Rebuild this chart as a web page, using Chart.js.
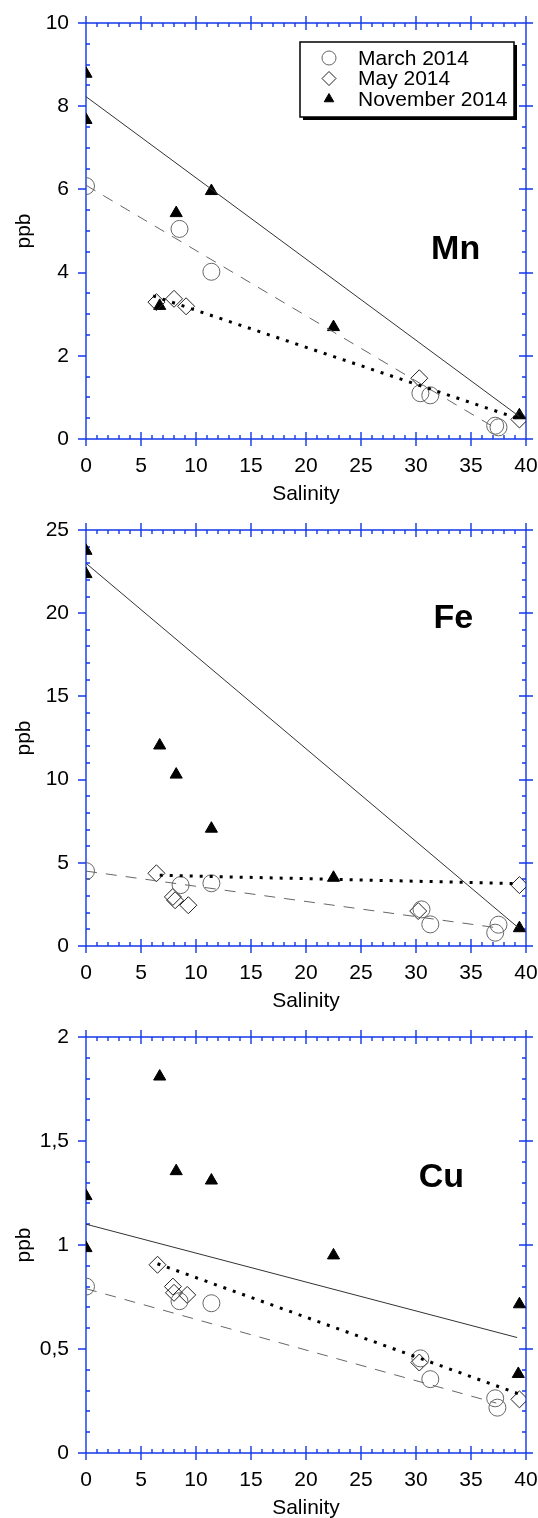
<!DOCTYPE html>
<html><head><meta charset="utf-8">
<script src="https://cdn.jsdelivr.net/npm/chart.js@4.4.1/dist/chart.umd.min.js"></script>
<style>
html,body{margin:0;padding:0;background:#fff;}
body{width:538px;height:1518px;position:relative;overflow:hidden;}
.panel{position:absolute;left:0;width:538px;height:504px;}
</style></head><body>
<div class="panel" style="top:0"><canvas id="c1"></canvas></div>
<div class="panel" style="top:507px"><canvas id="c2"></canvas></div>
<div class="panel" style="top:1014px"><canvas id="c3"></canvas></div>
<script>
// ---------- tick labels ----------
const salinityTicks = ['0','5','10','15','20','25','30','35','40'];
const mnTicks = ['0','2','4','6','8','10'];
const feTicks = ['0','5','10','15','20','25'];
const cuTicks = ['0','0,5','1','1,5','2'];
const seriesNames = ['March 2014','May 2014','November 2014'];

// ---------- Mn ----------
const mnMarchS = [0, 8.5, 11.4, 30.4, 31.3, 37.2, 37.5];
const mnMarchV = [6.08, 5.05, 4.02, 1.10, 1.05, 0.32, 0.28];
const mnMayS = [6.4, 8.0, 9.1, 30.3, 39.4];
const mnMayV = [3.29, 3.37, 3.19, 1.46, 0.47];
const mnNovS = [0, 0, 6.7, 8.2, 11.4, 22.5, 39.4];
const mnNovV = [8.78, 7.67, 3.2, 5.43, 5.96, 2.69, 0.57];
const mnMarchFitS = [0, 37.3], mnMarchFitV = [6.1, 0.25];
const mnMayFitS = [6.1, 39.2], mnMayFitV = [3.44, 0.5];
const mnNovFitS = [0, 39.4], mnNovFitV = [8.23, 0.54];

// ---------- Fe ----------
const feMarchS = [0, 8.6, 11.4, 30.5, 31.3, 37.2, 37.5];
const feMarchV = [4.5, 3.66, 3.77, 2.2, 1.3, 0.8, 1.28];
const feMayS = [6.4, 7.9, 8.1, 9.3, 30.2, 39.4];
const feMayV = [4.37, 2.95, 2.75, 2.45, 2.1, 3.66];
const feNovS = [0, 0, 6.7, 8.2, 11.4, 22.5, 39.4];
const feNovV = [23.75, 22.35, 12.05, 10.3, 7.05, 4.1, 1.07];
const feMarchFitS = [0, 37.3], feMarchFitV = [4.5, 1.1];
const feMayFitS = [6.7, 39.3], feMayFitV = [4.25, 3.75];
const feNovFitS = [0, 39.3], feNovFitV = [23.0, 1.1];

// ---------- Cu ----------
const cuMarchS = [0, 8.5, 11.4, 30.4, 31.3, 37.2, 37.4];
const cuMarchV = [0.80, 0.73, 0.72, 0.455, 0.355, 0.263, 0.218];
const cuMayS = [6.5, 7.9, 8.0, 9.2, 30.3, 39.4];
const cuMayV = [0.905, 0.80, 0.77, 0.76, 0.435, 0.258];
const cuNovS = [0, 0, 6.7, 8.2, 11.4, 22.5, 39.4, 39.3];
const cuNovV = [1.235, 0.985, 1.81, 1.355, 1.31, 0.95, 0.715, 0.38];
const cuMarchFitS = [0, 37.3], cuMarchFitV = [0.79, 0.24];
const cuMayFitS = [6.5, 39.3], cuMayFitV = [0.91, 0.285];
const cuNovFitS = [0, 39.2], cuNovFitV = [1.10, 0.555];

const FONT = '"Liberation Sans", Arial, Helvetica, sans-serif';
const AXIS_BLUE = '#1238ea';

function pts(xs, ys){ return xs.map((x,i)=>({x:x, y:ys[i]})); }

const framePlugin = {
  id: 'frame',
  beforeDatasetsDraw(chart, args, o) {
    const ctx = chart.ctx, xs = chart.scales.x, ys = chart.scales.y, a = chart.chartArea;
    const L = Math.round(a.left), R = Math.round(a.right), T = Math.round(a.top), B = Math.round(a.bottom);
    ctx.save();
    ctx.strokeStyle = AXIS_BLUE; ctx.lineWidth = 1.4; ctx.lineCap = 'butt';
    ctx.beginPath();
    ctx.moveTo(L, T); ctx.lineTo(R, T); ctx.lineTo(R, B); ctx.lineTo(L, B); ctx.closePath();
    const nx = Math.round((o.xMax - o.xMin) / o.xMinor);
    for (let i = 0; i <= nx; i++) {
      const v = o.xMin + i * o.xMinor;
      const p = Math.round(xs.getPixelForValue(v));
      const major = i % Math.round(o.xMajor / o.xMinor) === 0;
      if (major) {
        ctx.moveTo(p, B - 7); ctx.lineTo(p, B + 7);
        ctx.moveTo(p, T - 7); ctx.lineTo(p, T + 7);
      } else {
        ctx.moveTo(p, B - 4); ctx.lineTo(p, B);
        ctx.moveTo(p, T); ctx.lineTo(p, T + 4);
      }
    }
    const ny = Math.round((o.yMax - o.yMin) / o.yMinor);
    for (let i = 0; i <= ny; i++) {
      const v = o.yMin + i * o.yMinor;
      const p = Math.round(ys.getPixelForValue(v));
      const major = i % Math.round(o.yMajor / o.yMinor) === 0;
      if (major) {
        ctx.moveTo(L - 8, p); ctx.lineTo(L, p);
        ctx.moveTo(R - 7, p); ctx.lineTo(R + 7, p);
      } else {
        ctx.moveTo(L, p); ctx.lineTo(L + 4, p);
        ctx.moveTo(R - 4, p); ctx.lineTo(R, p);
      }
    }
    ctx.stroke();
    ctx.restore();
  },
  afterDraw(chart, args, o) {
    const ctx = chart.ctx, xs = chart.scales.x, ys = chart.scales.y, a = chart.chartArea;
    ctx.save();
    ctx.fillStyle = '#000';
    ctx.font = 'bold 34px ' + FONT;
    ctx.textAlign = 'center'; ctx.textBaseline = 'alphabetic';
    ctx.fillText(o.label, xs.getPixelForValue(o.labelS), ys.getPixelForValue(o.labelV));
    if (o.legend) {
      const bx = a.right - 226, by = a.top + 19, bw = 214, bh = 75;
      ctx.fillStyle = '#000';
      ctx.fillRect(bx + 3, by + 3, bw, bh);
      ctx.fillStyle = '#fff';
      ctx.fillRect(bx, by, bw, bh);
      ctx.strokeStyle = '#000'; ctx.lineWidth = 1.5;
      ctx.strokeRect(bx, by, bw, bh);
      const styles = chart.data.datasets.slice(0, 3);
      ctx.font = '21px ' + FONT;
      ctx.textAlign = 'left'; ctx.textBaseline = 'middle';
      for (let i = 0; i < 3; i++) {
        const cy = by + 16 + i * 20.5;
        const ds = styles[i];
        ctx.save();
        ctx.fillStyle = ds.backgroundColor; ctx.strokeStyle = ds.borderColor; ctx.lineWidth = 1;
        Chart.helpers.drawPoint(ctx, {pointStyle: ds.pointStyle, radius: ds.pointRadius - 1.5, borderWidth: 1, rotation: 0}, bx + 29, cy);
        ctx.restore();
        ctx.fillStyle = '#000';
        ctx.fillText(seriesNames[i], bx + 58, cy + 1);
      }
    }
    ctx.restore();
  }
};

function noOverhang(s) { s.paddingLeft = 0; s.paddingRight = 0; s.paddingTop = 0; s.paddingBottom = 0; }

function makeChart(id, cfg) {
  const datasets = [
    { label: seriesNames[0], data: pts(cfg.marchS, cfg.marchV), pointStyle: 'circle', pointRadius: 8.5,
      borderColor: '#666', backgroundColor: 'rgba(255,255,255,0)', borderWidth: 1, showLine: false, order: 2 },
    { label: seriesNames[1], data: pts(cfg.mayS, cfg.mayV), pointStyle: 'rectRot', pointRadius: 8.5,
      borderColor: '#222', backgroundColor: 'rgba(255,255,255,0)', borderWidth: 1, showLine: false, order: 2 },
    { label: seriesNames[2], data: pts(cfg.novS, cfg.novV), pointStyle: 'triangle', pointRadius: 7,
      borderColor: '#000', backgroundColor: '#000', borderWidth: 1, showLine: false, order: 2 },
    { label: 'March fit', data: pts(cfg.marchFitS, cfg.marchFitV), showLine: true, pointRadius: 0,
      borderColor: '#666', borderWidth: 1, borderDash: [11, 9], fill: false, order: 1 },
    { label: 'May fit', data: pts(cfg.mayFitS, cfg.mayFitV), showLine: true, pointRadius: 0,
      borderColor: '#000', borderWidth: 3, borderDash: [3, 7], borderCapStyle: 'butt', fill: false, order: 0 },
    { label: 'November fit', data: pts(cfg.novFitS, cfg.novFitV), showLine: true, pointRadius: 0,
      borderColor: '#333', borderWidth: 1, fill: false, order: 1 }
  ];
  return new Chart(document.getElementById(id), {
    type: 'scatter',
    data: { datasets },
    plugins: [framePlugin],
    options: {
      responsive: true, maintainAspectRatio: false, animation: false, devicePixelRatio: 1,
      layout: { padding: { left: 0, right: 12, top: 23, bottom: 0 } },
      plugins: {
        legend: { display: false }, tooltip: { enabled: false },
        frame: { xMin: 0, xMax: 40, xMinor: 1, xMajor: 5, yMin: 0, yMax: cfg.yMax, yMinor: cfg.yMinor, yMajor: cfg.yStep,
          label: cfg.label, labelS: cfg.labelS, labelV: cfg.labelV, legend: cfg.legend }
      },
      scales: {
        x: {
          type: 'linear', min: 0, max: 40,
          grid: { display: false, drawTicks: false }, border: { display: false },
          ticks: { stepSize: 5, padding: 15, color: '#000', font: { family: FONT, size: 21 },
            maxRotation: 0, callback: (v, i) => salinityTicks[i] },
          title: { display: true, text: 'Salinity', color: '#000', font: { family: FONT, size: 21 }, padding: { top: 0, bottom: -3 } },
          afterFit: s => { s.height = 65; noOverhang(s); }
        },
        y: {
          type: 'linear', min: 0, max: cfg.yMax,
          grid: { display: false, drawTicks: false }, border: { display: false },
          ticks: { stepSize: cfg.yStep, padding: 17, color: '#000', font: { family: FONT, size: 21 },
            callback: (v, i) => cfg.ticks[i] },
          title: { display: true, text: 'ppb', color: '#000', font: { family: FONT, size: 21 }, padding: { top: 12, bottom: 0 } },
          afterFit: s => { s.width = 86; noOverhang(s); }
        }
      }
    }
  });
}

makeChart('c1', { marchS: mnMarchS, marchV: mnMarchV, mayS: mnMayS, mayV: mnMayV, novS: mnNovS, novV: mnNovV,
  marchFitS: mnMarchFitS, marchFitV: mnMarchFitV, mayFitS: mnMayFitS, mayFitV: mnMayFitV, novFitS: mnNovFitS, novFitV: mnNovFitV,
  yMax: 10, yStep: 2, yMinor: 0.5, ticks: mnTicks, label: 'Mn', labelS: 33.6, labelV: 4.33, legend: true });
makeChart('c2', { marchS: feMarchS, marchV: feMarchV, mayS: feMayS, mayV: feMayV, novS: feNovS, novV: feNovV,
  marchFitS: feMarchFitS, marchFitV: feMarchFitV, mayFitS: feMayFitS, mayFitV: feMayFitV, novFitS: feNovFitS, novFitV: feNovFitV,
  yMax: 25, yStep: 5, yMinor: 1, ticks: feTicks, label: 'Fe', labelS: 33.4, labelV: 19.1, legend: false });
makeChart('c3', { marchS: cuMarchS, marchV: cuMarchV, mayS: cuMayS, mayV: cuMayV, novS: cuNovS, novV: cuNovV,
  marchFitS: cuMarchFitS, marchFitV: cuMarchFitV, mayFitS: cuMayFitS, mayFitV: cuMayFitV, novFitS: cuNovFitS, novFitV: cuNovFitV,
  yMax: 2, yStep: 0.5, yMinor: 0.1, ticks: cuTicks, label: 'Cu', labelS: 32.3, labelV: 1.28, legend: false });
</script>
</body></html>
